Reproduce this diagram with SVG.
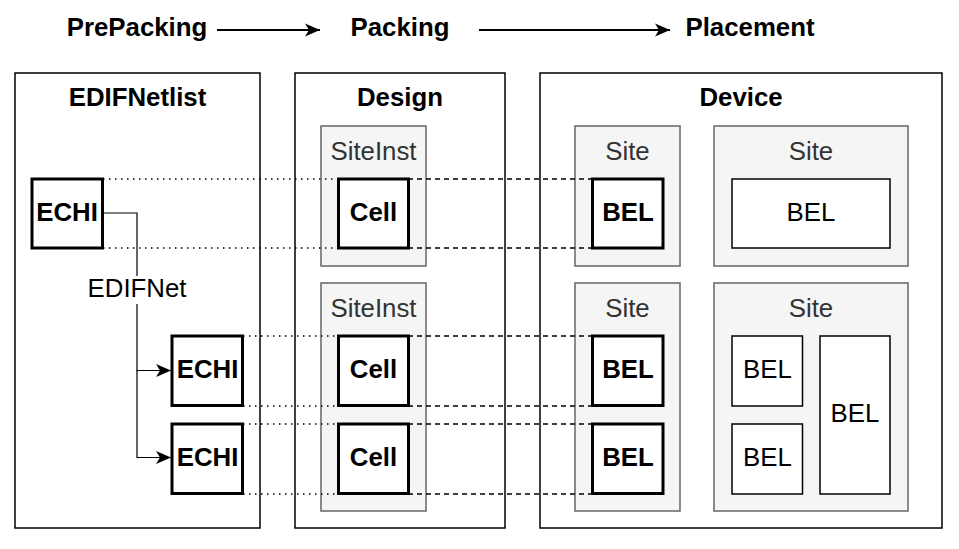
<svg xmlns="http://www.w3.org/2000/svg" width="959" height="549" viewBox="0 0 959 549">
<defs>
<style>
text{font-family:"Liberation Sans",Arial,sans-serif;font-size:25.8px;text-anchor:middle;fill:#000}
.b{font-weight:bold}
.g{fill:#333}
.frame{fill:#fff;stroke:#000;stroke-width:1.5}
.site{fill:#f5f5f5;stroke:#666;stroke-width:1.5}
.thick{fill:#fff;stroke:#000;stroke-width:3}
.thin{fill:#fff;stroke:#000;stroke-width:1.5}
.dot{stroke:#000;stroke-width:1.5;stroke-dasharray:1.5 4.5;fill:none}
.dash{stroke:#000;stroke-width:1.5;stroke-dasharray:5 4;fill:none}
.net{stroke:#000;stroke-width:1.2;fill:none}
.flow{stroke:#000;stroke-width:2;fill:none}
</style>
<marker id="arr" markerUnits="userSpaceOnUse" markerWidth="16" markerHeight="14" refX="15" refY="7" orient="auto">
<path d="M0,0.5 L15,7 L0,13.5 L4,7 Z" fill="#000"/>
</marker>
</defs>
<rect width="959" height="549" fill="#fff"/>

<g id="stages">
<text class="b" x="137" y="36">PrePacking</text>
<text class="b" x="400" y="36">Packing</text>
<text class="b" x="750" y="36">Placement</text>
</g>

<g id="edifnetlist">
<rect class="frame" x="15" y="73" width="245" height="455"/>
<text class="b" x="137.5" y="106">EDIFNetlist</text>
</g>
<g id="design">
<rect class="frame" x="295" y="73" width="210" height="455"/>
<text class="b" x="400" y="106">Design</text>
</g>
<g id="device">
<rect class="frame" x="540" y="73" width="402" height="455"/>
<text class="b" x="741" y="106">Device</text>
</g>

<g id="siteinst1">
<rect class="site" x="321" y="126" width="105" height="140"/>
<text class="g" x="373.5" y="160">SiteInst</text>
</g>
<g id="siteinst2">
<rect class="site" x="321" y="283" width="105" height="228"/>
<text class="g" x="373.5" y="317">SiteInst</text>
</g>
<g id="site1">
<rect class="site" x="575" y="126" width="105" height="140"/>
<text class="g" x="627.5" y="160">Site</text>
</g>
<g id="site2">
<rect class="site" x="714" y="126" width="194" height="140"/>
<text class="g" x="811" y="160">Site</text>
</g>
<g id="site3">
<rect class="site" x="575" y="283" width="105" height="228"/>
<text class="g" x="627.5" y="317">Site</text>
</g>
<g id="site4">
<rect class="site" x="714" y="283" width="194" height="228"/>
<text class="g" x="811" y="317">Site</text>
</g>

<g id="connectors">
<line class="dot" x1="103" y1="179" x2="338" y2="179"/>
<line class="dot" x1="103" y1="248" x2="338" y2="248"/>
<line class="dot" x1="243" y1="336" x2="338" y2="336"/>
<line class="dot" x1="243" y1="406" x2="338" y2="406"/>
<line class="dot" x1="243" y1="424" x2="338" y2="424"/>
<line class="dot" x1="243" y1="494" x2="338" y2="494"/>
<line class="dash" x1="408" y1="179" x2="592" y2="179"/>
<line class="dash" x1="408" y1="248" x2="592" y2="248"/>
<line class="dash" x1="408" y1="336" x2="592" y2="336"/>
<line class="dash" x1="408" y1="406" x2="592" y2="406"/>
<line class="dash" x1="408" y1="424" x2="592" y2="424"/>
<line class="dash" x1="408" y1="494" x2="592" y2="494"/>
<path class="net" d="M103,213 H137 V370.5 H171" marker-end="url(#arr)"/>
<path class="net" d="M137,370.5 V457.5 H171" marker-end="url(#arr)"/>
<line class="flow" x1="217" y1="30" x2="320" y2="30" marker-end="url(#arr)"/>
<line class="flow" x1="479" y1="30" x2="670" y2="30" marker-end="url(#arr)"/>
<rect x="85" y="276" width="104" height="28" fill="#fff"/>
<text x="137" y="297">EDIFNet</text>
</g>

<g id="echi1">
<rect class="thick" x="32" y="179" width="70.5" height="69"/>
<text class="b" x="67" y="221">ECHI</text>
</g>
<g id="echi2">
<rect class="thick" x="172" y="336" width="70.5" height="69.5"/>
<text class="b" x="207.5" y="378">ECHI</text>
</g>
<g id="echi3">
<rect class="thick" x="172" y="424" width="70.5" height="69.5"/>
<text class="b" x="207.5" y="466">ECHI</text>
</g>

<g id="cell1">
<rect class="thick" x="338.5" y="179" width="70" height="69"/>
<text class="b" x="373.5" y="221">Cell</text>
</g>
<g id="cell2">
<rect class="thick" x="338.5" y="336" width="70" height="69.5"/>
<text class="b" x="373.5" y="378">Cell</text>
</g>
<g id="cell3">
<rect class="thick" x="338.5" y="424" width="70" height="69.5"/>
<text class="b" x="373.5" y="466">Cell</text>
</g>

<g id="bel1">
<rect class="thick" x="592.5" y="179" width="70.5" height="69"/>
<text class="b" x="628" y="221">BEL</text>
</g>
<g id="bel2">
<rect class="thick" x="592.5" y="336" width="70.5" height="69.5"/>
<text class="b" x="628" y="378">BEL</text>
</g>
<g id="bel3">
<rect class="thick" x="592.5" y="424" width="70.5" height="69.5"/>
<text class="b" x="628" y="466">BEL</text>
</g>

<g id="bel4">
<rect class="thin" x="732" y="179" width="158" height="69"/>
<text x="811" y="221">BEL</text>
</g>
<g id="bel5">
<rect class="thin" x="732" y="336" width="70.5" height="70"/>
<text x="767.5" y="378">BEL</text>
</g>
<g id="bel6">
<rect class="thin" x="732" y="424" width="70.5" height="70"/>
<text x="767.5" y="466">BEL</text>
</g>
<g id="bel7">
<rect class="thin" x="820" y="336" width="70" height="158"/>
<text x="855" y="422">BEL</text>
</g>
</svg>
